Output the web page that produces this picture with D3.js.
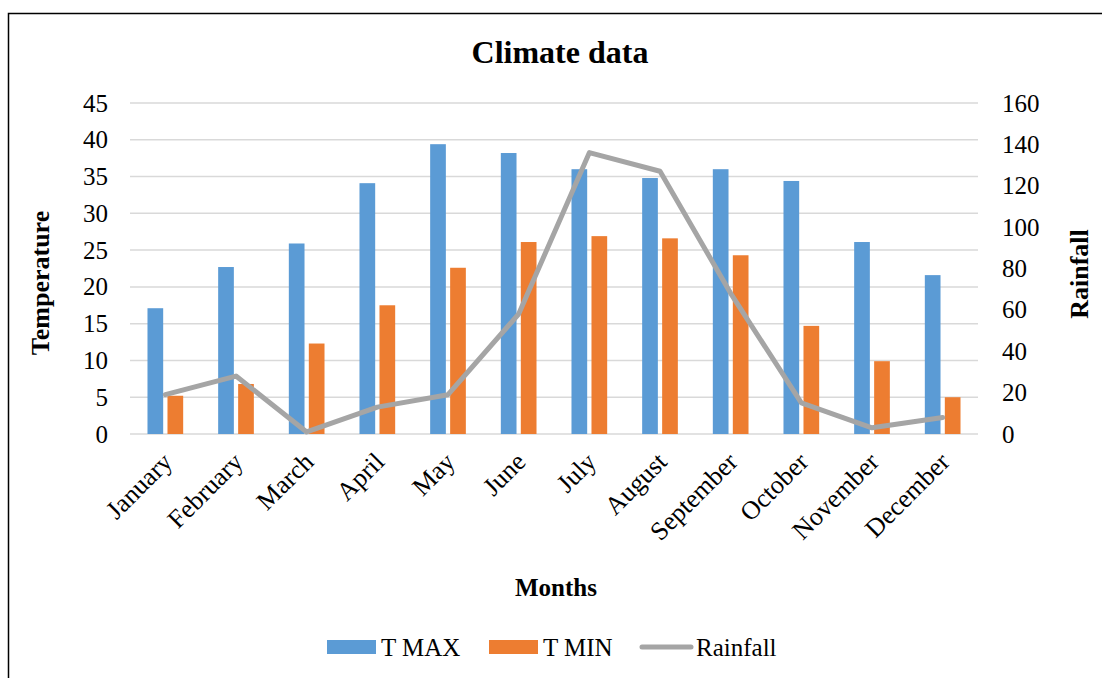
<!DOCTYPE html>
<html>
<head>
<meta charset="utf-8">
<script src="https://cdn.jsdelivr.net/npm/d3@7"></script>
<style>
  body { margin: 0; background: #fff; }
  text { font-family: "Liberation Serif", "Times New Roman", serif; fill: #000; }
</style>
</head>
<body>
<svg id="vis" width="1102" height="678"></svg>
<script>
// data
var months = ["January","February","March","April","May","June","July","August","September","October","November","December"];
var tMax = [17.1, 22.7, 25.9, 34.1, 39.4, 38.2, 36.0, 34.8, 36.0, 34.4, 26.1, 21.6];
var tMin = [5.2, 6.8, 12.3, 17.5, 22.6, 26.1, 26.9, 26.6, 24.3, 14.7, 9.9, 5.0];
var rainfall = [19, 28, 1, 13, 19, 58, 136, 127, 68, 15, 3, 8];
var leftTicks = [0, 5, 10, 15, 20, 25, 30, 35, 40, 45];
var rightTicks = [0, 20, 40, 60, 80, 100, 120, 140, 160];
var seriesNames = ["T MAX", "T MIN"];
var colors = {"T MAX": "#5b9bd5", "T MIN": "#ed7d31", "Rainfall": "#a5a5a5"};

var svg = d3.select("#vis");

var plot = {left: 130, right: 978, top: 103, bottom: 434};

// outer frame
svg.append("rect")
    .attr("x", 8.5).attr("y", 13.5)
    .attr("width", 1110).attr("height", 700)
    .attr("fill", "none").attr("stroke", "#000").attr("stroke-width", 1.5);

//scales
var x0 = d3.scaleBand()
    .domain(months)
    .range([plot.left, plot.right])
    .paddingInner(0.495)
    .paddingOuter(0.2475);
var x1 = d3.scaleBand()
    .domain(seriesNames)
    .range([0, x0.bandwidth()])
    .paddingInner(0.215);
var yL = d3.scaleLinear().domain([0, 45]).range([plot.bottom, plot.top]);
var yR = d3.scaleLinear().domain([0, 160]).range([plot.bottom, plot.top]);

// gridlines
svg.append("g").selectAll("line")
    .data(leftTicks)
    .enter().append("line")
    .attr("x1", plot.left).attr("x2", plot.right)
    .attr("y1", function(d) {return yL(d);})
    .attr("y2", function(d) {return yL(d);})
    .attr("stroke", "#d9d9d9").attr("stroke-width", 1.5);

// left axis labels
var leftAxis = svg.append("g")
    .attr("transform", "translate(" + (plot.left - 22) + ",0)")
    .call(d3.axisLeft(yL).tickValues(leftTicks).tickSize(0).tickPadding(0));
leftAxis.select(".domain").remove();
leftAxis.selectAll("text")
    .attr("font-size", 25).attr("font-family", "Liberation Serif").attr("fill", "#000");

// right axis labels
var rightAxis = svg.append("g")
    .attr("transform", "translate(" + (plot.right + 24) + ",0)")
    .call(d3.axisRight(yR).tickValues(rightTicks).tickSize(0).tickPadding(0));
rightAxis.select(".domain").remove();
rightAxis.selectAll("text")
    .attr("font-size", 25).attr("font-family", "Liberation Serif").attr("fill", "#000");

// bars
var rows = months.map(function(m, i) {
    return {month: m, values: [{key: "T MAX", v: tMax[i]}, {key: "T MIN", v: tMin[i]}]};
});
svg.append("g").selectAll("g")
    .data(rows)
    .enter().append("g")
    .attr("transform", function(d) {return "translate(" + x0(d.month) + ",0)";})
    .selectAll("rect")
    .data(function(d) {return d.values;})
    .enter().append("rect")
    .attr("x", function(d) {return x1(d.key);})
    .attr("width", x1.bandwidth())
    .attr("y", function(d) {return yL(d.v);})
    .attr("height", function(d) {return yL(0) - yL(d.v);})
    .attr("fill", function(d) {return colors[d.key];});

// rainfall line
var line = d3.line()
    .x(function(d, i) {return x0(months[i]) + x0.bandwidth() / 2;})
    .y(function(d) {return yR(d);});
svg.append("path")
    .datum(rainfall)
    .attr("d", line)
    .attr("fill", "none")
    .attr("stroke", colors["Rainfall"])
    .attr("stroke-width", 5)
    .attr("stroke-linejoin", "round")
    .attr("stroke-linecap", "round");

// month labels
svg.append("g").selectAll("text")
    .data(months)
    .enter().append("text")
    .text(function(d) {return d;})
    .attr("transform", function(d) {
        return "translate(" + (x0(d) + x0.bandwidth() / 2 + 2) + "," + 457 + ") rotate(-45)";
    })
    .attr("text-anchor", "end")
    .attr("dy", "0.35em")
    .attr("font-size", 26);

// titles
svg.append("text")
    .text("Climate data")
    .attr("x", 560).attr("y", 63)
    .attr("text-anchor", "middle")
    .attr("font-size", 32).attr("font-weight", "bold");

svg.append("text")
    .text("Months")
    .attr("x", 556).attr("y", 596)
    .attr("text-anchor", "middle")
    .attr("font-size", 25).attr("font-weight", "bold");

svg.append("text")
    .text("Temperature")
    .attr("transform", "translate(49,283) rotate(-90)")
    .attr("text-anchor", "middle")
    .attr("font-size", 26).attr("font-weight", "bold");

svg.append("text")
    .text("Rainfall")
    .attr("transform", "translate(1088,274) rotate(-90)")
    .attr("text-anchor", "middle")
    .attr("font-size", 26).attr("font-weight", "bold");

// legend
var legendItems = [
    {name: "T MAX", x: 327, type: "rect"},
    {name: "T MIN", x: 489, type: "rect"},
    {name: "Rainfall", x: 640, type: "line"}
];
var legend = svg.append("g").selectAll("g")
    .data(legendItems)
    .enter().append("g")
    .attr("transform", function(d) {return "translate(" + d.x + ",647)";});
legend.filter(function(d) {return d.type == "rect";})
    .append("rect")
    .attr("x", 0).attr("y", -7)
    .attr("width", 49).attr("height", 14)
    .attr("fill", function(d) {return colors[d.name];});
legend.filter(function(d) {return d.type == "line";})
    .append("line")
    .attr("x1", 2).attr("x2", 51)
    .attr("y1", 0).attr("y2", 0)
    .attr("stroke", function(d) {return colors[d.name];})
    .attr("stroke-width", 5)
    .attr("stroke-linecap", "round");
legend.append("text")
    .text(function(d) {return d.name;})
    .attr("x", function(d) {return d.type == "rect" ? 54 : 56;})
    .attr("y", 8.5)
    .attr("font-size", 25);
</script>
</body>
</html>
